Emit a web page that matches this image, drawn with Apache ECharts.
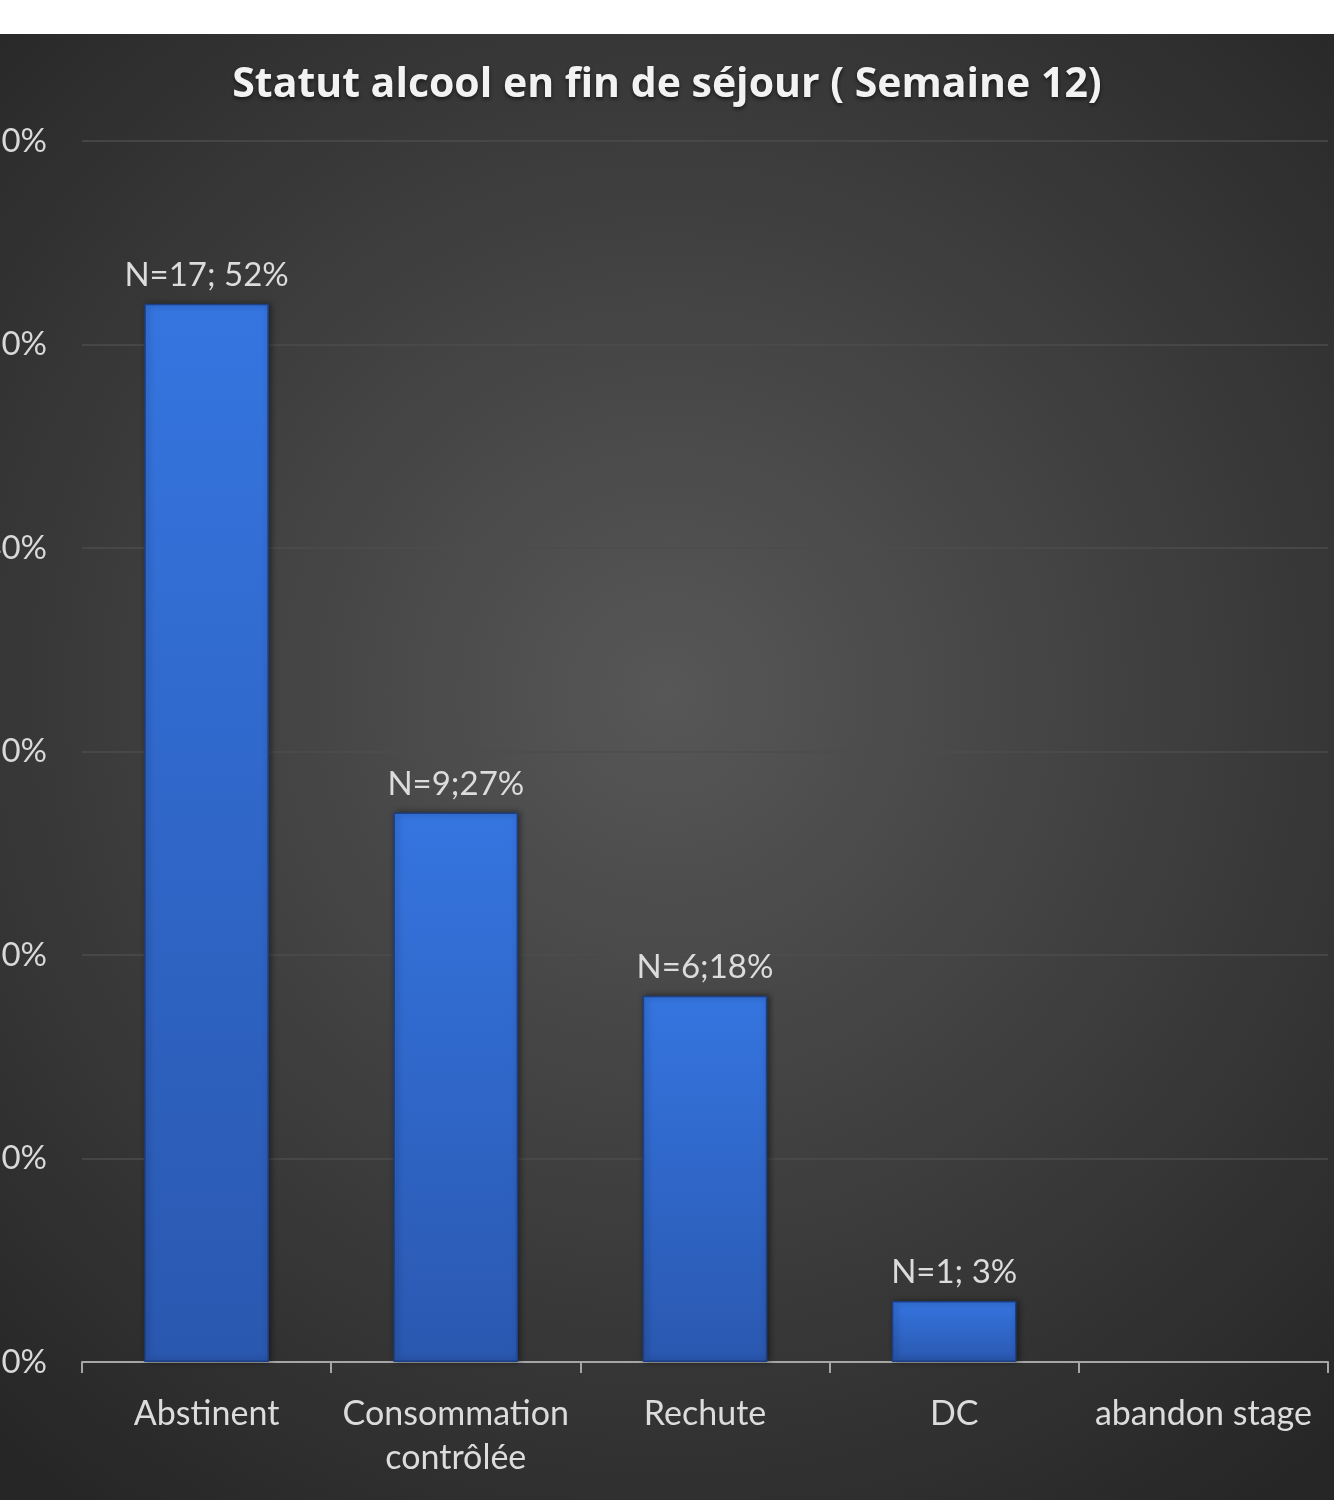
<!DOCTYPE html>
<html>
<head>
<meta charset="utf-8">
<script src="https://cdn.jsdelivr.net/npm/echarts@6/dist/echarts.min.js"></script>
<style>
  html, body { margin: 0; padding: 0; background: #fff; }
  #chart { position: absolute; left: 0; top: 34px; width: 1334px; height: 1466px; }
</style>
</head>
<body>
<div id="chart"></div>
<script>
// catégories et valeurs (%)
const categories = ['Abstinent', 'Consommation\ncontrôlée', 'Rechute', 'DC', 'abandon stage']
const values = [52, 27, 18, 3, 0]
const valueLabels = ['N=17; 52%', 'N=9;27%', 'N=6;18%', 'N=1; 3%', '']
const yTicks = [0, 10, 20, 30, 40, 50, 60]

const FONT = 'Lato, "Open Sans", sans-serif'
const chart = echarts.init(document.getElementById('chart'))

chart.setOption({
  backgroundColor: {
    type: 'radial', x: 0.5, y: 0.45, r: 0.75,
    colorStops: [
      { offset: 0, color: '#575757' },
      { offset: 1, color: '#262626' },
    ],
  },
  title: {
    text: 'Statut alcool en fin de séjour ( Semaine 12)',
    left: 'center',
    top: 26,
    textStyle: {
      color: '#f2f2f2',
      fontFamily: '"Open Sans", sans-serif',
      fontSize: 41,
      fontWeight: 'bold',
      textShadowColor: 'rgba(0,0,0,0.6)',
      textShadowBlur: 4,
      textShadowOffsetY: 2,
    },
  },
  grid: { left: 82, right: 6, top: 107, bottom: 138, outerBoundsMode: 'none', containLabel: false },
  xAxis: {
    type: 'category',
    data: categories,
    axisLine: { lineStyle: { color: '#a6a6a6', width: 2 } },
    axisTick: { show: true, length: 11, lineStyle: { color: '#a6a6a6', width: 2 } },
    axisLabel: {
      color: '#dcdcdc', fontFamily: FONT, fontSize: 34, margin: 30, lineHeight: 44,
      interval: 0,
    },
  },
  yAxis: {
    type: 'value',
    min: yTicks[0],
    max: yTicks[yTicks.length - 1],
    interval: 10,
    axisLine: { show: false },
    axisTick: { show: false },
    splitLine: { lineStyle: { color: '#4d4d4d', width: 1.5 } },
    axisLabel: {
      color: '#d9d9d9', fontFamily: FONT, fontSize: 33, margin: 35,
      formatter: v => v + '%',
    },
  },
  series: [{
    type: 'bar',
    data: values.map(v => (v === 0 ? { value: v, itemStyle: { borderWidth: 0, shadowBlur: 0 } } : v)),
    barWidth: '50%',
    itemStyle: {
      color: {
        type: 'linear', x: 0, y: 0, x2: 0, y2: 1,
        colorStops: [
          { offset: 0, color: '#3575e0' },
          { offset: 1, color: '#2a58b0' },
        ],
      },
      borderColor: '#1d3f85',
      borderWidth: 1.5,
      shadowColor: 'rgba(0,0,0,0.45)',
      shadowBlur: 6,
      shadowOffsetX: 2,
    },
    label: {
      show: true,
      position: 'top',
      distance: 12,
      color: '#dcdcdc',
      fontFamily: FONT,
      fontSize: 33,
      formatter: p => valueLabels[p.dataIndex],
    },
  }],
})
</script>
</body>
</html>
